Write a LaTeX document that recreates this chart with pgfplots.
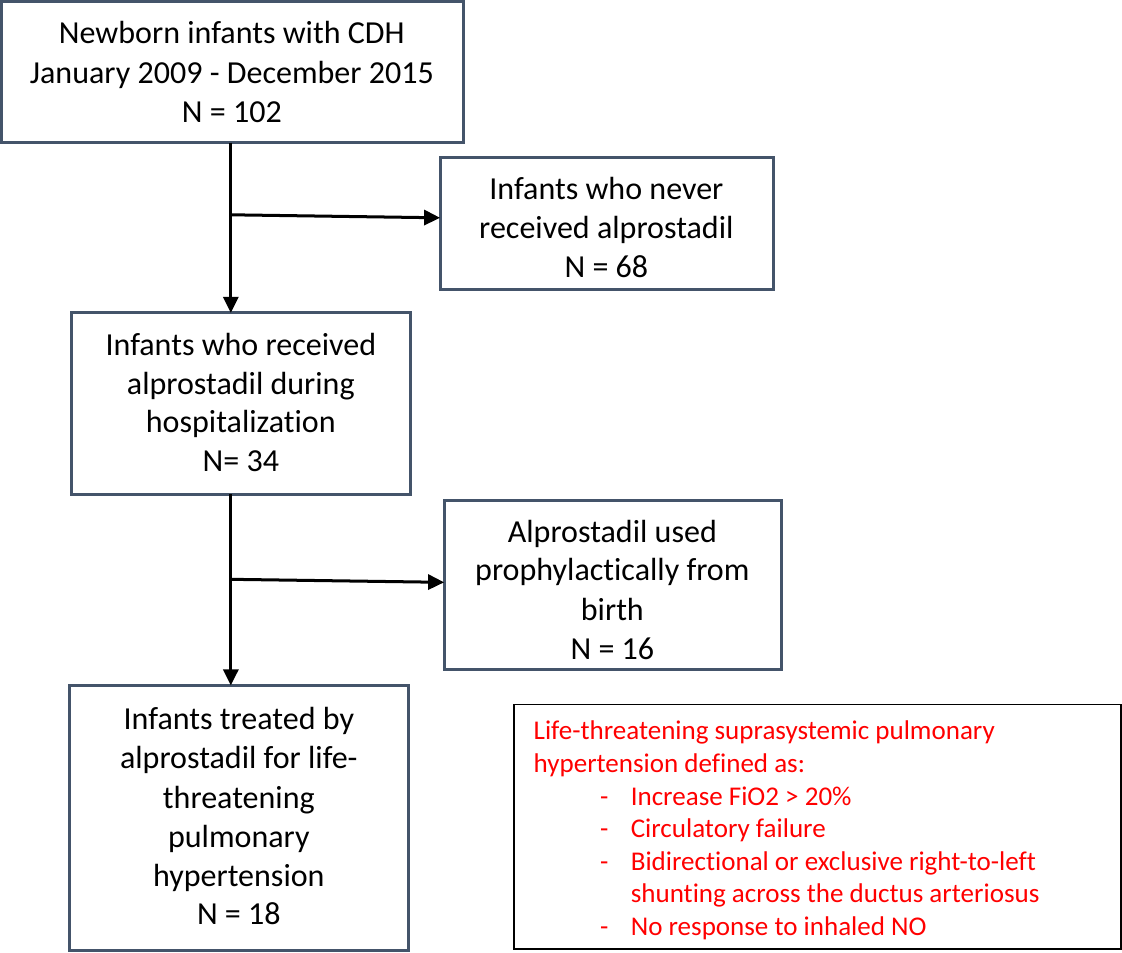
\documentclass[border=0pt]{standalone}
\usepackage{pgfplots}
\pgfplotsset{compat=1.18}
\usetikzlibrary{arrows.meta}
\usepackage{fontspec}
\setmainfont{Carlito}[Ligatures=NoCommon]
\definecolor{boxc}{HTML}{44546A}
\definecolor{redt}{HTML}{FF0000}
\newcommand\mf{\fontsize{16}{19.5}\selectfont}
\newcommand\rf{\fontsize{13.5}{16.5}\selectfont}
\begin{document}
\begin{tikzpicture}
\begin{axis}[width=561pt,height=476pt,scale only axis,
  xmin=0,xmax=1122,ymin=0,ymax=952,y dir=reverse,
  hide axis,clip=false]
% boxes
\addplot[boxc,line width=1.5pt,line join=miter,mark=none] coordinates {(232,2) (463,2) (463,143) (2,143) (2,2) (232,2)};
\addplot[boxc,line width=1.5pt,line join=miter,mark=none] coordinates {(606,158) (773,158) (773,290) (440,290) (440,158) (606,158)};
\addplot[boxc,line width=1.5pt,line join=miter,mark=none] coordinates {(241,313) (410,313) (410,494) (72,494) (72,313) (241,313)};
\addplot[boxc,line width=1.5pt,line join=miter,mark=none] coordinates {(612,500) (781,500) (781,669) (444,669) (444,500) (612,500)};
\addplot[boxc,line width=1.5pt,line join=miter,mark=none] coordinates {(239,685) (408,685) (408,950) (70,950) (70,685) (239,685)};
\addplot[black,line width=0.9pt,line join=miter,mark=none] coordinates {(817,704) (1120,704) (1120,948) (514,948) (514,704) (817,704)};
% arrows
\addplot[black,line width=1.5pt,mark=none,-{Triangle[length=8pt,width=7.5pt]}] coordinates {(231,143) (231,313)};
\addplot[black,line width=1.5pt,mark=none,-{Triangle[length=8pt,width=7.5pt]}] coordinates {(231,215) (440,218)};
\addplot[black,line width=1.5pt,mark=none,-{Triangle[length=8pt,width=7.5pt]}] coordinates {(231,494) (231,685)};
\addplot[black,line width=1.5pt,mark=none,-{Triangle[length=8pt,width=7.5pt]}] coordinates {(231,579) (444,582)};
% box texts
\node[anchor=base,font=\mf] at (axis cs:232,44) {Newborn infants with CDH};
\node[anchor=base,font=\mf] at (axis cs:232,83.5) {January 2009 - December 2015};
\node[anchor=base,font=\mf] at (axis cs:232,123) {N = 102};
\node[anchor=base,font=\mf] at (axis cs:606,200) {Infants who never};
\node[anchor=base,font=\mf] at (axis cs:606,239) {received alprostadil};
\node[anchor=base,font=\mf] at (axis cs:606,278) {N = 68};
\node[anchor=base,font=\mf] at (axis cs:241,355) {Infants who received};
\node[anchor=base,font=\mf] at (axis cs:241,394) {alprostadil during};
\node[anchor=base,font=\mf] at (axis cs:241,432) {hospitalization};
\node[anchor=base,font=\mf] at (axis cs:241,471) {N= 34};
\node[anchor=base,font=\mf] at (axis cs:612,542) {Alprostadil used};
\node[anchor=base,font=\mf] at (axis cs:612,580.5) {prophylactically from};
\node[anchor=base,font=\mf] at (axis cs:612,620) {birth};
\node[anchor=base,font=\mf] at (axis cs:612,659) {N = 16};
\node[anchor=base,font=\mf] at (axis cs:239,729) {Infants treated by};
\node[anchor=base,font=\mf] at (axis cs:239,768) {alprostadil for life-};
\node[anchor=base,font=\mf] at (axis cs:239,808) {threatening};
\node[anchor=base,font=\mf] at (axis cs:239,847) {pulmonary};
\node[anchor=base,font=\mf] at (axis cs:239,886) {hypertension};
\node[anchor=base,font=\mf] at (axis cs:239,924) {N = 18};
% red text
\node[anchor=base west,inner sep=0pt,font=\rf,text=redt] at (axis cs:533,739) {Life-threatening suprasystemic pulmonary};
\node[anchor=base west,inner sep=0pt,font=\rf,text=redt] at (axis cs:533,772) {hypertension defined as:};
\node[anchor=base,inner sep=0pt,font=\rf,text=redt] at (axis cs:604,805) {-};
\node[anchor=base west,inner sep=0pt,font=\rf,text=redt] at (axis cs:630,805) {Increase FiO2 > 20\%};
\node[anchor=base,inner sep=0pt,font=\rf,text=redt] at (axis cs:604,837) {-};
\node[anchor=base west,inner sep=0pt,font=\rf,text=redt] at (axis cs:630,837) {Circulatory failure};
\node[anchor=base,inner sep=0pt,font=\rf,text=redt] at (axis cs:604,870) {-};
\node[anchor=base west,inner sep=0pt,font=\rf,text=redt] at (axis cs:630,870) {Bidirectional or exclusive right-to-left};
\node[anchor=base west,inner sep=0pt,font=\rf,text=redt] at (axis cs:630,902) {shunting across the ductus arteriosus};
\node[anchor=base,inner sep=0pt,font=\rf,text=redt] at (axis cs:604,935) {-};
\node[anchor=base west,inner sep=0pt,font=\rf,text=redt] at (axis cs:630,935) {No response to inhaled NO};
\end{axis}
\end{tikzpicture}
\end{document}
